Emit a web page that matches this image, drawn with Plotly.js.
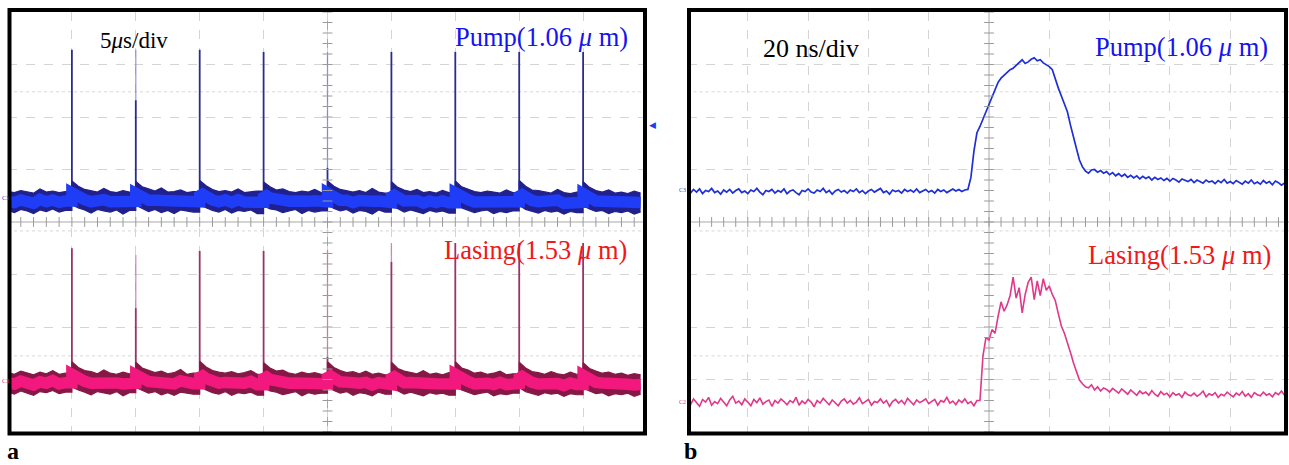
<!DOCTYPE html>
<html><head><meta charset="utf-8">
<script src="https://cdn.plot.ly/plotly-3.0.1.min.js"></script>
<style>html,body{margin:0;padding:0;background:#fff}#chart{width:1289px;height:465px}</style>
</head><body><div id="chart"></div>
<script>
// ---------- DATA (values in screen divisions) ----------
// Panel a: 5 us/div, band envelope sampled every 0.5 us (t = 0 ... 49.5 us)
const bandStepUs = 0.5;
const pulseTimesA = [5, 10, 15, 20, 25, 30, 35, 40, 45];          // us
const pumpTopA = [
  4.58,4.56,4.60,4.57,4.55,4.63,4.57,4.59,4.56,4.58,
  4.78,4.68,4.62,4.60,4.57,4.64,4.58,4.56,4.60,4.57,
  4.77,4.67,4.63,4.59,4.65,4.57,4.58,4.61,4.56,4.58,
  4.79,4.69,4.62,4.58,4.60,4.57,4.63,4.56,4.58,4.59,
  4.76,4.67,4.61,4.63,4.58,4.56,4.59,4.57,4.62,4.56,
  4.78,4.68,4.62,4.59,4.57,4.60,4.56,4.64,4.57,4.55,
  4.77,4.66,4.61,4.58,4.62,4.56,4.58,4.55,4.60,4.56,
  4.78,4.67,4.63,4.58,4.56,4.59,4.57,4.55,4.61,4.56,
  4.79,4.68,4.61,4.60,4.57,4.55,4.62,4.56,4.54,4.57,
  4.77,4.66,4.60,4.57,4.61,4.55,4.57,4.54,4.59,4.55];
const pumpBotA = [
  4.22,4.18,4.24,4.21,4.16,4.23,4.20,4.25,4.19,4.22,
  4.33,4.27,4.23,4.17,4.24,4.21,4.19,4.23,4.15,4.22,
  4.32,4.26,4.20,4.24,4.18,4.22,4.16,4.23,4.21,4.19,
  4.34,4.27,4.22,4.19,4.24,4.17,4.22,4.20,4.23,4.16,
  4.31,4.25,4.23,4.18,4.21,4.24,4.16,4.22,4.19,4.21,
  4.33,4.26,4.21,4.24,4.17,4.22,4.20,4.15,4.23,4.19,
  4.32,4.25,4.19,4.23,4.20,4.16,4.22,4.19,4.21,4.17,
  4.33,4.27,4.22,4.18,4.21,4.23,4.16,4.20,4.18,4.21,
  4.32,4.24,4.21,4.17,4.22,4.19,4.21,4.15,4.20,4.18,
  4.31,4.25,4.20,4.22,4.16,4.20,4.18,4.21,4.15,4.19];
const pumpSpikeCoreA = [7.28, 6.32, 7.28, 7.24, 5.03, 7.24, 7.24, 7.24, 7.24];
const pumpSpikeTipA  = [7.28, 7.28, 7.28, 7.24, 7.24, 7.24, 7.24, 7.24, 7.24];
const laseTopA = [
  1.13,1.10,1.16,1.12,1.09,1.14,1.11,1.17,1.10,1.12,
  1.34,1.23,1.17,1.15,1.11,1.18,1.12,1.10,1.14,1.11,
  1.33,1.22,1.18,1.13,1.16,1.11,1.13,1.19,1.10,1.12,
  1.35,1.24,1.17,1.14,1.12,1.15,1.11,1.13,1.17,1.10,
  1.32,1.22,1.16,1.18,1.12,1.10,1.14,1.11,1.13,1.10,
  1.34,1.23,1.17,1.13,1.15,1.11,1.16,1.10,1.12,1.09,
  1.33,1.21,1.16,1.13,1.11,1.17,1.10,1.12,1.09,1.13,
  1.34,1.22,1.18,1.12,1.14,1.10,1.12,1.16,1.09,1.11,
  1.33,1.22,1.15,1.13,1.10,1.15,1.11,1.09,1.14,1.10,
  1.32,1.21,1.16,1.12,1.14,1.10,1.12,1.08,1.11,1.09];
const laseBotA = [
  0.76,0.72,0.78,0.74,0.70,0.77,0.75,0.79,0.73,0.76,
  0.86,0.80,0.76,0.71,0.77,0.74,0.72,0.77,0.69,0.75,
  0.85,0.79,0.74,0.77,0.71,0.75,0.70,0.76,0.74,0.72,
  0.87,0.80,0.75,0.72,0.77,0.70,0.75,0.73,0.76,0.70,
  0.85,0.78,0.76,0.71,0.74,0.77,0.69,0.75,0.72,0.74,
  0.86,0.79,0.74,0.77,0.70,0.75,0.73,0.69,0.76,0.72,
  0.85,0.78,0.72,0.76,0.73,0.69,0.75,0.72,0.74,0.70,
  0.86,0.80,0.75,0.71,0.74,0.76,0.69,0.73,0.71,0.74,
  0.85,0.77,0.74,0.70,0.75,0.72,0.74,0.68,0.73,0.71,
  0.84,0.78,0.73,0.75,0.69,0.73,0.71,0.74,0.68,0.72];
const laseSpikeCoreA = [3.50, 2.36, 3.45, 3.45, 1.43, 3.24, 3.60, 3.60, 3.60];
const laseSpikeTipA  = [3.50, 3.37, 3.45, 3.45, 3.47, 3.60, 3.60, 3.60, 3.60];

// Panel b: 20 ns/div, sampled every 1 ns (t = 0 ... 199 ns)
const sampleStepNs = 1;
const pumpB = [
  4.60,4.55,4.62,4.57,4.63,4.54,4.60,4.58,4.64,4.56,
  4.59,4.53,4.61,4.57,4.62,4.55,4.60,4.63,4.56,4.59,
  4.54,4.61,4.58,4.64,4.57,4.52,4.60,4.58,4.62,4.55,
  4.60,4.57,4.63,4.54,4.59,4.61,4.56,4.52,4.60,4.58,
  4.63,4.57,4.55,4.61,4.58,4.64,4.56,4.60,4.53,4.59,
  4.62,4.57,4.60,4.55,4.61,4.58,4.63,4.56,4.60,4.54,
  4.59,4.62,4.57,4.60,4.64,4.56,4.59,4.53,4.61,4.58,
  4.60,4.55,4.62,4.58,4.61,4.57,4.63,4.56,4.59,4.62,
  4.57,4.60,4.55,4.62,4.58,4.61,4.56,4.60,4.63,4.59,
  4.62,4.58,4.61,4.62,4.85,5.35,5.70,5.82,5.96,6.10,
  6.25,6.38,6.52,6.66,6.74,6.80,6.84,6.90,6.93,6.98,
  7.04,7.09,7.02,7.05,7.10,7.13,7.07,7.09,7.03,6.99,
  6.96,6.90,6.70,6.55,6.40,6.25,6.10,5.85,5.60,5.40,
  5.18,5.05,4.97,4.93,4.99,5.00,4.95,4.98,4.93,4.96,
  4.90,4.94,4.88,4.92,4.87,4.91,4.85,4.89,4.84,4.88,
  4.82,4.87,4.83,4.86,4.80,4.85,4.81,4.84,4.79,4.83,
  4.78,4.83,4.80,4.76,4.82,4.79,4.77,4.81,4.75,4.80,
  4.77,4.74,4.80,4.76,4.78,4.73,4.79,4.75,4.81,4.74,
  4.77,4.73,4.79,4.75,4.72,4.78,4.74,4.80,4.73,4.76,
  4.72,4.79,4.74,4.77,4.71,4.78,4.75,4.70,4.74,4.68];
const laseB = [
  0.60,0.52,0.63,0.55,0.49,0.62,0.57,0.66,0.51,0.58,
  0.54,0.64,0.57,0.50,0.61,0.68,0.55,0.59,0.52,0.63,
  0.57,0.50,0.62,0.56,0.65,0.53,0.58,0.61,0.49,0.60,
  0.55,0.63,0.58,0.52,0.60,0.56,0.66,0.51,0.59,0.54,
  0.62,0.57,0.48,0.60,0.55,0.64,0.58,0.52,0.61,0.56,
  0.50,0.59,0.63,0.55,0.60,0.53,0.57,0.65,0.54,0.58,
  0.62,0.51,0.58,0.56,0.63,0.55,0.60,0.49,0.58,0.62,
  0.55,0.60,0.53,0.64,0.57,0.52,0.61,0.56,0.59,0.63,
  0.54,0.58,0.62,0.51,0.60,0.57,0.66,0.55,0.59,0.52,
  0.61,0.56,0.63,0.54,0.58,0.50,0.60,0.60,1.45,1.80,
  1.75,1.95,1.88,2.20,2.48,2.30,2.42,2.60,2.95,2.55,
  2.75,2.27,2.62,2.85,2.95,2.52,2.88,2.60,2.92,2.70,
  2.78,2.62,2.50,2.25,2.02,1.88,1.72,1.52,1.32,1.15,
  0.99,0.92,0.86,0.84,0.90,0.80,0.86,0.78,0.84,0.81,
  0.76,0.83,0.79,0.74,0.82,0.77,0.72,0.80,0.75,0.70,
  0.78,0.73,0.76,0.70,0.79,0.72,0.68,0.77,0.71,0.74,
  0.67,0.75,0.70,0.73,0.66,0.76,0.71,0.69,0.74,0.68,
  0.72,0.78,0.67,0.73,0.70,0.75,0.66,0.72,0.69,0.76,
  0.71,0.67,0.74,0.70,0.77,0.68,0.73,0.66,0.75,0.71,
  0.69,0.76,0.70,0.73,0.67,0.75,0.71,0.78,0.70,0.74];

const labelsA = {time: '5<i>μ</i>s/div', pump: 'Pump(1.06 <i>μ</i> m)', lase: 'Lasing(1.53 <i>μ</i> m)'};
const labelsB = {time: '20 ns/div', pump: 'Pump(1.06 <i>μ</i> m)', lase: 'Lasing(1.53 <i>μ</i> m)'};

// ---------- BUILD ----------
const W = 1289, H = 465;
const pxX = x => x / W, pxY = y => 1 - y / H;
const bandT = pumpTopA.map((_, i) => i * bandStepUs);
const tB = pumpB.map((_, i) => i * sampleStepNs);
const pulseIdx = new Set(pulseTimesA.map(t => Math.round(t / bandStepUs)));

// linear path that holds the previous sample up to each pulse, so the jump is vertical
function withSteps(vals) {
  const x = [], y = [];
  vals.forEach((v, i) => {
    if (i > 0 && pulseIdx.has(i)) { x.push(bandT[i]); y.push(vals[i - 1]); }
    x.push(bandT[i]); y.push(v);
  });
  return {x, y};
}
function spikes(times, from, to) {
  const x = [], y = [];
  times.forEach((t, k) => {
    const base = from.length === times.length ? from[k] : from[Math.round(t / bandStepUs)];
    x.push(t, t, null); y.push(base, to[k], null);
  });
  return {x, y};
}

const traces = [];
function envelope(top, bot, dark, bright, spikeCore, spikeTip, coreCol, tipCol) {
  const mid = top.map((v, i) => (v + bot[i]) / 2);
  let s = spikes(pulseTimesA, spikeCore, spikeTip);
  traces.push({x: s.x, y: s.y, mode: 'lines', line: {width: 1.3, color: tipCol}, xaxis: 'x', yaxis: 'y', hoverinfo: 'skip'});
  s = spikes(pulseTimesA, mid, spikeCore);
  traces.push({x: s.x, y: s.y, mode: 'lines', line: {width: 1.8, color: coreCol}, xaxis: 'x', yaxis: 'y', hoverinfo: 'skip'});
  const T = withSteps(top), B = withSteps(bot), M = withSteps(mid);
  traces.push({x: T.x, y: T.y, mode: 'lines', line: {width: 1.2, color: dark}, xaxis: 'x', yaxis: 'y', hoverinfo: 'skip'});
  traces.push({x: B.x, y: B.y, mode: 'lines', fill: 'tonexty', fillcolor: dark, line: {width: 1.2, color: dark}, xaxis: 'x', yaxis: 'y', hoverinfo: 'skip'});
  traces.push({x: M.x, y: M.y, mode: 'lines', line: {width: 11.5, color: bright}, xaxis: 'x', yaxis: 'y', hoverinfo: 'skip'});
}
envelope(pumpTopA, pumpBotA, '#20208e', '#1f3cf6', pumpSpikeCoreA, pumpSpikeTipA, '#2c2c8e', 'rgba(125,125,195,0.75)');
envelope(laseTopA, laseBotA, '#861846', '#f2187e', laseSpikeCoreA, laseSpikeTipA, '#9a3468', 'rgba(185,120,160,0.8)');

traces.push({x: tB, y: pumpB, mode: 'lines', line: {width: 1.7, color: '#1f2fd6'}, xaxis: 'x2', yaxis: 'y2', hoverinfo: 'skip'});
traces.push({x: tB, y: laseB, mode: 'lines', line: {width: 1.6, color: '#e0388a'}, xaxis: 'x2', yaxis: 'y2', hoverinfo: 'skip'});

// centre-line minor ticks (oscilloscope graticule)
function graticuleTicks(xa, ya, xmax, xstep, xc) {
  const hx = [], hy = [], vx = [], vy = [];
  for (let i = 0; i * xstep <= xmax + 1e-9; i++) { hx.push(i * xstep); hy.push(4); }
  for (let j = 0; j <= 40; j++) { vx.push(xc); vy.push(j * 0.2); }
  traces.push({x: hx, y: hy, mode: 'markers', marker: {symbol: 'line-ns', size: 7, line: {width: 1, color: '#9a9a9a'}}, xaxis: xa, yaxis: ya, hoverinfo: 'skip'});
  traces.push({x: vx, y: vy, mode: 'markers', marker: {symbol: 'line-ew', size: 7, line: {width: 1, color: '#9a9a9a'}}, xaxis: xa, yaxis: ya, hoverinfo: 'skip'});
}
graticuleTicks('x', 'y', 50, 1, 25);
graticuleTicks('x2', 'y2', 200, 4, 100);

const axisCommon = {showgrid: true, gridcolor: '#d4d4d4', griddash: 'dash', gridwidth: 1, zeroline: false,
  showticklabels: false, ticks: '', showline: false, fixedrange: true};
const shapes = [];
function hline(xa, ya, x1, y, color, dash, w) {
  shapes.push({type: 'line', xref: xa, yref: ya, x0: 0, x1: x1, y0: y, y1: y, line: {color, width: w || 1, dash}, layer: 'below'});
}
[['x', 'y', 50], ['x2', 'y2', 200]].forEach(([xa, ya, xm]) => {
  hline(xa, ya, xm, 4, '#a8a8a8', 'solid', 1);
  shapes.push({type: 'line', xref: xa, yref: ya, x0: xm / 2, x1: xm / 2, y0: 0, y1: 8, line: {color: '#a8a8a8', width: 1}, layer: 'below'});
  hline(xa, ya, xm, 6.48, '#d6d6d6', 'dot', 1);
  hline(xa, ya, xm, 3.83, '#d6d6d6', 'dot', 1);
  hline(xa, ya, xm, 1.45, '#d6d6d6', 'dot', 1);
});
// black frames
shapes.push({type: 'rect', xref: 'paper', yref: 'paper', x0: pxX(9.5), x1: pxX(645), y0: pxY(433.5), y1: pxY(10), line: {color: '#000', width: 4}});
shapes.push({type: 'rect', xref: 'paper', yref: 'paper', x0: pxX(689), x1: pxX(1286), y0: pxY(433.5), y1: pxY(10), line: {color: '#000', width: 4}});

const serif = 'Liberation Serif, Times New Roman, serif';
function ann(text, x, y, size, color, extra) {
  return Object.assign({text, xref: 'paper', yref: 'paper', x: pxX(x), y: pxY(y), xanchor: 'left', yanchor: 'middle',
    showarrow: false, font: {family: serif, size, color}}, extra || {});
}
const annotations = [
  ann(labelsA.time, 98, 41, 23, '#000'),
  ann(labelsA.pump, 453, 37, 26.5, '#1414f0'),
  ann(labelsA.lase, 442, 250, 26.5, '#f01818'),
  ann(labelsB.time, 761, 48, 26, '#000'),
  ann(labelsB.pump, 1093, 47, 26.5, '#1414f0'),
  ann(labelsB.lase, 1086, 255, 26.5, '#f01818'),
  ann('<b>a</b>', 6, 465, 24, '#000', {yanchor: 'bottom', borderpad: 0}),
  ann('<b>b</b>', 683, 465, 24, '#000', {yanchor: 'bottom', borderpad: 0}),
  ann('C3', 0, 198, 6, '#3040d0'),
  ann('C3', 0, 381, 6, '#e03080'),
  ann('C3', 677, 190, 6, '#3040d0'),
  ann('C2', 677, 402, 6, '#e03080'),
  ann('◀', 647, 125, 9, '#1f3cf2')
];

const layout = {
  width: W, height: H, margin: {l: 0, r: 0, t: 0, b: 0}, paper_bgcolor: '#fff', plot_bgcolor: '#fff',
  showlegend: false,
  xaxis: Object.assign({}, axisCommon, {domain: [pxX(8), pxX(647)], range: [0, 50], dtick: 5, anchor: 'y'}),
  yaxis: Object.assign({}, axisCommon, {domain: [pxY(432), pxY(12)], range: [0, 8], dtick: 1, anchor: 'x'}),
  xaxis2: Object.assign({}, axisCommon, {domain: [pxX(687.5), 1], range: [0, 199.5], dtick: 20, anchor: 'y2'}),
  yaxis2: Object.assign({}, axisCommon, {domain: [pxY(432), pxY(12)], range: [0, 8], dtick: 1, anchor: 'x2'}),
  shapes, annotations
};
Plotly.newPlot('chart', traces, layout, {staticPlot: true, displayModeBar: false});
</script></body></html>
